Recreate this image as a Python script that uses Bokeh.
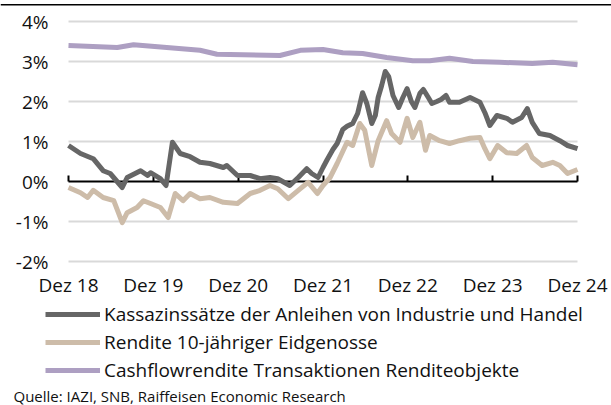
from bokeh.plotting import figure
from bokeh.models import Range1d, FixedTicker, LinearAxis, Legend, LegendItem, Label, Span
from bokeh.embed import file_html
from bokeh.resources import INLINE

# x positions are months since December 2018
tick_months = [0, 12, 24, 36, 48, 60, 72]
tick_labels = ["Dez 18", "Dez 19", "Dez 20", "Dez 21", "Dez 22", "Dez 23", "Dez 24"]
y_ticks = [-2, -1, 0, 1, 2, 3, 4]
y_labels = ["-2%", "-1%", "0%", "1%", "2%", "3%", "4%"]

kassa_m = [0, 1.7, 3.5, 4.9, 5.9, 7.6, 8.3, 10.2, 11.2, 11.6, 13.0, 13.8, 14.7, 15.8, 17.2,
           18.6, 20.0, 21.9, 22.4, 23.9, 25.7, 27.1, 28.5, 29.6, 31.3, 32.5, 33.7, 34.4, 35.3,
           36.0, 36.6, 37.4, 38.0, 38.8, 39.4, 40.2, 40.9, 41.6, 42.2, 42.9, 43.4, 43.8, 44.3,
           44.8, 45.3, 45.9, 46.7, 47.3, 47.9, 48.5, 49.0, 49.7, 50.2, 50.9, 51.4, 52.1, 52.7,
           53.4, 53.9, 55.3, 56.8, 58.2, 58.9, 59.6, 60.6, 62.0, 62.8, 64.1, 64.9, 65.6, 66.6,
           68.1, 69.5, 70.6, 72.0]
kassa_v = [0.90, 0.70, 0.57, 0.27, 0.20, -0.15, 0.10, 0.27, 0.15, 0.22, 0.07, -0.10, 0.98, 0.70, 0.62,
           0.48, 0.45, 0.35, 0.40, 0.15, 0.15, 0.07, 0.10, 0.07, -0.10, 0.10, 0.32, 0.20, 0.10,
           0.35, 0.55, 0.80, 0.95, 1.30, 1.38, 1.45, 1.70, 2.22, 1.95, 1.45, 1.65, 2.10, 2.40,
           2.75, 2.62, 2.15, 1.85, 2.10, 2.32, 2.00, 1.85, 2.20, 2.30, 2.10, 1.95, 2.00, 2.05,
           2.15, 1.98, 1.98, 2.10, 1.98, 1.72, 1.40, 1.65, 1.58, 1.48, 1.60, 1.82, 1.48, 1.20,
           1.15, 1.02, 0.90, 0.82]

rendite_m = [0, 1.7, 2.7, 3.5, 4.9, 6.4, 7.6, 8.3, 9.7, 10.6, 11.6, 13.0, 14.1, 15.1, 16.2,
             17.2, 18.6, 20.0, 21.9, 23.9, 25.7, 27.1, 28.5, 29.6, 31.1, 32.8, 33.9, 35.2, 36.0,
             37.0, 38.0, 39.4, 40.2, 41.2, 41.9, 42.9, 43.8, 45.0, 45.7, 46.9, 47.9, 48.7, 49.7,
             50.5, 51.1, 52.5, 53.9, 55.3, 56.8, 58.2, 58.9, 59.6, 60.7, 62.0, 63.4, 64.8, 65.6,
             67.0, 68.5, 69.5, 70.6, 72.0]
rendite_v = [-0.15, -0.28, -0.40, -0.22, -0.40, -0.48, -1.03, -0.78, -0.65, -0.48, -0.55, -0.65, -0.90, -0.30, -0.48,
             -0.30, -0.43, -0.40, -0.52, -0.55, -0.30, -0.22, -0.10, -0.18, -0.43, -0.18, -0.02, -0.30, -0.10,
             0.10, 0.45, 0.98, 0.90, 1.45, 1.28, 0.40, 1.02, 1.52, 1.20, 0.98, 1.58, 1.10, 1.48,
             0.78, 1.15, 1.02, 0.95, 1.02, 1.08, 1.10, 0.82, 0.57, 0.90, 0.72, 0.70, 0.90, 0.60,
             0.40, 0.48, 0.40, 0.20, 0.30]

cash_m = [0, 6.9, 9.2, 18.6, 21.0, 29.9, 32.8, 36.0, 38.8, 41.6, 45.0, 48.7, 51.1, 53.9, 57.2, 61.0, 65.6, 68.5, 72.0]
cash_v = [3.40, 3.35, 3.42, 3.28, 3.18, 3.15, 3.28, 3.30, 3.22, 3.20, 3.10, 3.02, 3.02, 3.08, 3.00, 2.98, 2.95, 2.98, 2.92]

names = ["Kassazinssätze der Anleihen von Industrie und Handel",
         "Rendite 10-jähriger Eidgenosse",
         "Cashflowrendite Transaktionen Renditeobjekte"]
colors = ["#666666", "#cdbca9", "#ad9fc2"]
source_text = "Quelle: IAZI, SNB, Raiffeisen Economic Research"

FONT = "Open Sans"
TXT = "#111111"
W, H = 611, 405
PX_LEFT, PX_RIGHT, PX_TOP4 = 68, 577, 21      # plot area in pixels
PX_PER_PCT = 40.0

mpp = (tick_months[-1] - tick_months[0]) / (PX_RIGHT - PX_LEFT)   # months per pixel
x_start = tick_months[0] - PX_LEFT * mpp
x_end = tick_months[-1] + (W - PX_RIGHT) * mpp
y_end = y_ticks[-1] + PX_TOP4 / PX_PER_PCT
y_start = y_end - H / PX_PER_PCT

p = figure(width=W, height=H, output_backend="svg", toolbar_location=None,
           x_range=Range1d(x_start, x_end), y_range=Range1d(y_start, y_end),
           min_border=0)
p.outline_line_color = None
p.xgrid.grid_line_color = None
p.ygrid.grid_line_color = None

# top rule
p.add_layout(Span(location=y_end - 4.3 / PX_PER_PCT, dimension="width",
                  line_color="black", line_width=1.5))

# horizontal grid lines over the plot width (the 0 line is the black axis)
grid_y = [t for t in y_ticks if t != 0]
p.segment(x0=[tick_months[0]] * len(grid_y), x1=[tick_months[-1]] * len(grid_y),
          y0=grid_y, y1=grid_y, line_color="#d9d9d9", line_width=2)

# y axis
p.yaxis.fixed_location = tick_months[0]
p.yaxis.ticker = FixedTicker(ticks=y_ticks)
p.yaxis.major_label_overrides = {t: l for t, l in zip(y_ticks, y_labels)}
p.yaxis.axis_line_color = None
p.yaxis.major_tick_line_color = None
p.yaxis.minor_tick_line_color = None
p.yaxis.major_tick_in = 0
p.yaxis.major_tick_out = 0
p.yaxis.major_label_standoff = 20
p.yaxis.major_label_text_font = FONT
p.yaxis.major_label_text_font_size = "19px"
p.yaxis.major_label_text_color = TXT

# x axis: labels under the -2% line
p.xaxis.fixed_location = y_ticks[0]
p.xaxis.ticker = FixedTicker(ticks=tick_months)
p.xaxis.major_label_overrides = {t: l for t, l in zip(tick_months, tick_labels)}
p.xaxis.axis_line_color = None
p.xaxis.major_tick_line_color = None
p.xaxis.minor_tick_line_color = None
p.xaxis.major_tick_in = 0
p.xaxis.major_tick_out = 0
p.xaxis.major_label_standoff = 10
p.xaxis.major_label_text_font = FONT
p.xaxis.major_label_text_font_size = "19px"
p.xaxis.major_label_text_color = TXT

# zero line with upward ticks, drawn beneath the series
zero_axis = LinearAxis(fixed_location=0, bounds=(tick_months[0], tick_months[-1]),
                       ticker=FixedTicker(ticks=tick_months),
                       major_tick_in=6, major_tick_out=0, minor_tick_line_color=None,
                       axis_line_color="black", axis_line_width=2,
                       major_tick_line_color="black", major_tick_line_width=2,
                       major_label_text_alpha=0, major_label_text_font_size="1px",
                       major_label_standoff=0, level="underlay")
p.add_layout(zero_axis, "below")

r1 = p.line(kassa_m, kassa_v, line_color=colors[0], line_width=5, line_join="round")
r2 = p.line(rendite_m, rendite_v, line_color=colors[1], line_width=5, line_join="round")
r3 = p.line(cash_m, cash_v, line_color=colors[2], line_width=5, line_join="round")

legend = Legend(items=[LegendItem(label=names[0], renderers=[r1]),
                       LegendItem(label=names[1], renderers=[r2]),
                       LegendItem(label=names[2], renderers=[r3])],
                location=(45, 22), orientation="vertical",
                glyph_width=55, glyph_height=20, label_height=20, spacing=2,
                padding=0, margin=0, border_line_color=None, background_fill_alpha=0,
                label_standoff=4, label_text_font=FONT, label_text_font_size="19px",
                label_text_color=TXT)
p.add_layout(legend)

src = Label(x=13, y=10, x_units="screen", y_units="screen", text=source_text,
            text_baseline="middle", text_align="left", text_font=FONT,
            text_font_size="15px", text_color=TXT)
p.add_layout(src)

open("out.html", "w").write(file_html(p, INLINE))
